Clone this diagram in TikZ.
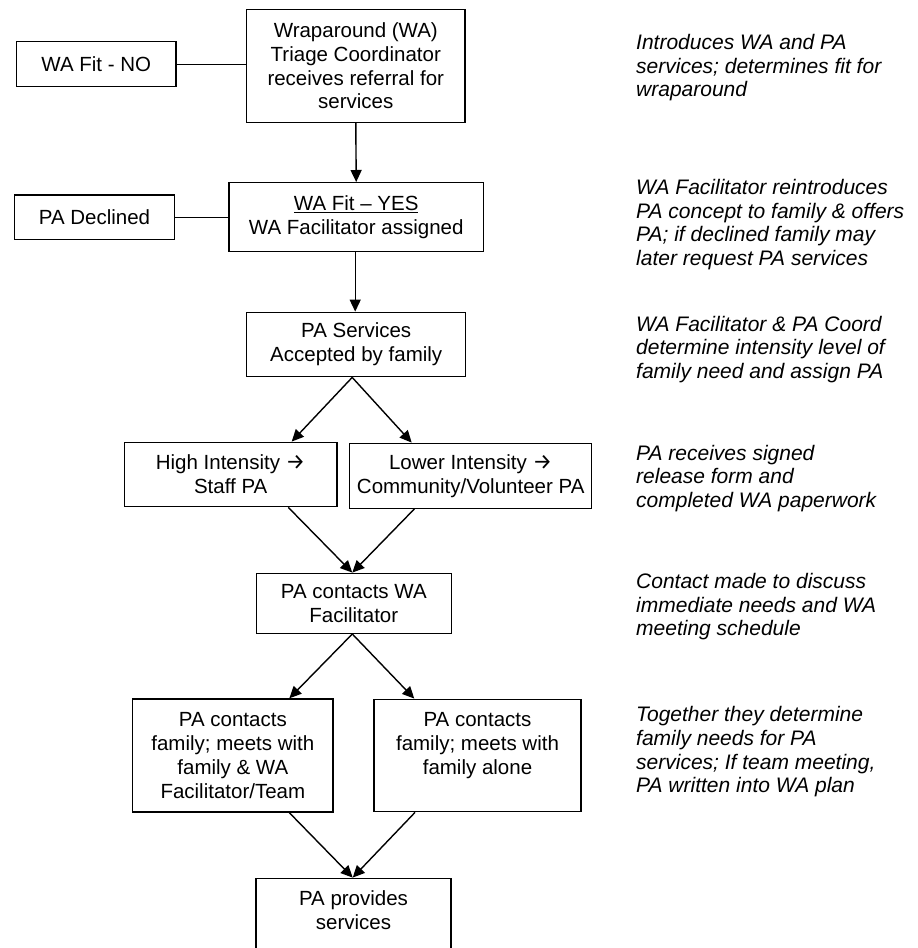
\documentclass[tikz,border=0pt]{standalone}
\usepackage{fontspec}
\setmainfont{Liberation Sans}
\newfontfamily\arrfont{Fira Sans}
\usetikzlibrary{arrows.meta}
\tikzset{
  box/.style={draw, line width=1.4pt, inner sep=0pt, align=center,
    font=\fontsize{20.5}{23.8}\selectfont},
  note/.style={anchor=north west, inner sep=0pt, align=left,
    font=\fontsize{21}{23.6}\selectfont\itshape},
  conn/.style={line width=1.4pt},
  arr/.style={line width=1.4pt, -{Triangle[length=12pt,width=11pt]}}
}
\newcommand{\rarr}{{\arrfont\fontsize{22}{23.8}\selectfont →}}
\begin{document}
\begin{tikzpicture}[x=1pt,y=-1pt]
\useasboundingbox[fill=white] (0,0) rectangle (918,948);
% boxes
\node[box, minimum width=159.3, minimum height=45] (no) at (96.3,64.2) {WA Fit - NO};
\node[box, minimum width=218.3, minimum height=113] (triage) at (355.8,65.8)
  {Wraparound (WA)\\Triage Coordinator\\receives referral for\\services};
\node[box, minimum width=159.6, minimum height=44.7] (declined) at (94.5,217.3) {PA Declined};
\node[box, minimum width=254.3, minimum height=69] (yes) at (356.2,217.2)
  {\underline{WA Fit – YES}\\WA Facilitator assigned};
\node[box, minimum width=219, minimum height=64.4] (accepted) at (356.2,344.5)
  {PA Services\\Accepted by family};
\node[box, minimum width=212.7, minimum height=64.4] (high) at (230.7,474.5)
  {High Intensity \rarr\\Staff PA};
\node[box, minimum width=242, minimum height=65] (lower) at (470.7,475.8)
  {Lower Intensity \rarr\\Community/Volunteer PA};
\node[box, minimum width=195, minimum height=60] (contacts) at (353.8,603.3)
  {PA contacts WA\\Facilitator};
\node[box, minimum width=200.3, minimum height=113] (meetteam) at (232.85,755.5)
  {PA contacts\\family; meets with\\family \& WA\\Facilitator/Team};
\node[box, minimum width=207, minimum height=112.4] (meetalone) at (477.5,755.5)
  {PA contacts\\family; meets with\\family alone\\\mbox{}};
\node[box, minimum width=195, minimum height=74] (provides) at (353.5,915.3)
  {PA provides\\services\\[-12.6pt]\mbox{}};
% connectors
\draw[conn] (triage.west |- no.east) -- (no.east);
\draw[conn] (yes.west |- declined.east) -- (declined.east);
\draw[arr] (triage.south) -- (yes.north);
\draw[arr] ([xshift=-1pt]yes.south) -- ([xshift=-1pt]accepted.north);
\draw[arr] ([xshift=-4pt]accepted.south) -- ([xshift=61pt]high.north);
\draw[arr] ([xshift=-4pt]accepted.south) -- ([xshift=-59pt]lower.north);
\draw[arr] ([xshift=57.6pt]high.south) -- ([xshift=-1.5pt]contacts.north);
\draw[arr] ([xshift=-56.4pt]lower.south) -- ([xshift=-1.5pt]contacts.north);
\draw[arr] ([xshift=-1.5pt]contacts.south) -- ([xshift=56.5pt]meetteam.north);
\draw[arr] ([xshift=-1.5pt]contacts.south) -- ([xshift=-63.2pt]meetalone.north);
\draw[arr] ([xshift=56.5pt]meetteam.south) -- ([xshift=-0.8pt]provides.north);
\draw[arr] ([xshift=-62.5pt]meetalone.south) -- ([xshift=-0.8pt]provides.north);
% notes
\node[note] (n1) at (636,32.8) {\strut Introduces WA and PA\\services; determines fit for\\wraparound};
\node[note] (n2) at (636,177.8) {\strut WA Facilitator reintroduces\\PA concept to family \& offers\\PA; if declined family may\\later request PA services};
\node[note] (n3) at (636,314.5) {\strut WA Facilitator \& PA Coord\\determine intensity level of\\family need and assign PA};
\node[note] (n4) at (636,443.5) {\strut PA receives signed\\release form and\\completed WA paperwork};
\node[note] (n5) at (636,571.8) {\strut Contact made to discuss\\immediate needs and WA\\meeting schedule};
\node[note] (n6) at (636,705.2) {\strut Together they determine\\family needs for PA\\services; If team meeting,\\PA written into WA plan};
\end{tikzpicture}
\end{document}
